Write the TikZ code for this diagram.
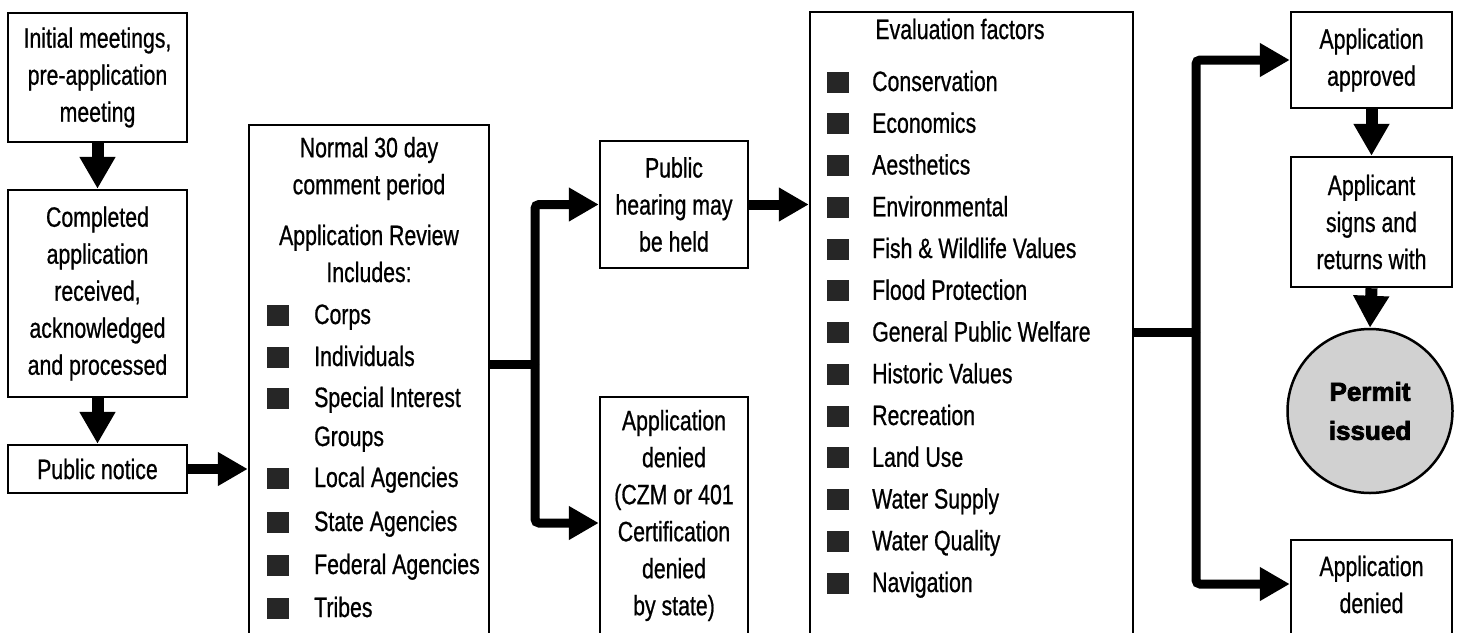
\documentclass[tikz,border=0pt]{standalone}
\usepackage{fontspec}
\setmainfont{Liberation Sans}[FakeStretch=0.76,FakeBold=0.7]
\newfontfamily\permfont{Liberation Sans}[FakeBold=3]
\usetikzlibrary{arrows.meta,shapes.geometric}
\begin{document}
\begin{tikzpicture}[x=1pt,y=-1pt,
  box/.style={draw, line width=2.5pt, rectangle, inner sep=0pt, align=center, font=\fontsize{28}{37}\selectfont},
  txt/.style={inner sep=0pt, align=center, font=\fontsize{28}{37}\selectfont},
  item/.style={inner sep=0pt, anchor=base west, font=\fontsize{28}{37}\selectfont},
  bul/.style={fill=black!85, minimum width=22pt, minimum height=21pt, inner sep=0pt},
  conn/.style={line width=10pt, -{Triangle[length=30pt,width=32pt]}},
  vconn/.style={line width=12pt, -{Triangle[length=32pt,width=34pt]}},
  bline/.style={line width=9pt},
  barrow/.style={line width=9pt, rounded corners=4pt, -{Triangle[length=30pt,width=32pt]}},
]
\useasboundingbox (0,0) rectangle (1458,632);
\fill[white] (0,0) rectangle (1458,632);
\clip (0,0) rectangle (1458,632);

% left column
\node[box, minimum width=179pt, minimum height=129pt] (init) at (97.5,77.5) {Initial meetings,\\pre-application\\meeting};
\node[box, minimum width=179pt, minimum height=207pt] (comp) at (97.5,293.5) {Completed\\application\\received,\\acknowledged\\and processed};
\node[box, minimum width=179pt, minimum height=48pt] (notice) at (97.5,469) {Public notice};

% review box
\node[box, minimum width=240pt, minimum height=580pt] (rev) at (369,415) {};
\node[txt] (revA) at (369,168.5) {Normal 30 day\\comment period};
\node[txt] (revB) at (369,253.5) {Application Review\\Includes:};
\foreach \t/\y [count=\i] in {Corps/315, Individuals/357, Special Interest/398, Local Agencies/478, State Agencies/522, Federal Agencies/565, Tribes/608} {
  \node[bul] (rb\i) at (278,\y) {};
  \node[item] (ri\i) at (314,\y+9) {\t};
}
\node[item] (riG) at (314,446) {Groups};

% middle boxes
\node[box, minimum width=148pt, minimum height=127pt] (hear) at (674,204.5) {Public\\hearing may\\be held};
\node[box, minimum width=148pt, minimum height=308pt] (czm) at (674,551) {};
\node[txt] (czmT) at (674,515.5) {Application\\denied\\(CZM or 401\\Certification\\denied\\by state)};

% evaluation box
\node[box, minimum width=323pt, minimum height=693pt] (eval) at (971.5,358.5) {};
\node[txt] (evalT) at (960,29) {Evaluation factors};
\foreach \t [count=\i from 0] in {Conservation, Economics, Aesthetics, Environmental, Fish \& Wildlife Values, Flood Protection, General Public Welfare, Historic Values, Recreation, Land Use, Water Supply, Water Quality, Navigation} {
  \pgfmathsetmacro\yy{82+\i*41.75}
  \node[bul] (eb\i) at (837.5,\yy) {};
  \node[item] (ei\i) at (872,\yy+9) {\t};
}

% right column
\node[box, minimum width=161pt, minimum height=96pt] (appr) at (1371.5,60) {Application\\approved};
\node[box, minimum width=161pt, minimum height=130pt] (sign) at (1371.5,222) {Applicant\\signs and\\returns with};
\node[ellipse, draw, line width=2.5pt, fill=black!18, minimum width=165pt, minimum height=164pt, inner sep=0pt, align=center, font=\permfont\bfseries\fontsize{26}{39}\selectfont] (perm) at (1370,411) {Permit\\issued};
\node[box, minimum width=161pt, minimum height=165pt] (deny) at (1371.5,622.5) {};
\node[txt] (denyT) at (1371.5,584.5) {Application\\denied};

% connectors
\draw[vconn] (init.south) -- (comp.north);
\draw[vconn] (comp.south) -- (notice.north);
\draw[conn] (notice.east) -- (notice.east -| rev.west);

\coordinate (brA) at (535,364);
\coordinate (brB) at (535,523);
\draw[bline] (brA -| rev.east) -- (brA);
\draw[barrow] (brA) |- (hear.west);
\draw[barrow] (brA) |- (czm.west |- brB);

\draw[conn] (hear.east) -- (hear.east -| eval.west);

\coordinate (brC) at (1196,332);
\coordinate (brD) at (1196,584);
\draw[bline] (brC -| eval.east) -- (brC);
\draw[barrow] (brC) |- (appr.west);
\draw[barrow] (brC) |- (deny.west |- brD);

\draw[vconn] (appr.south) -- (sign.north);
\draw[vconn] (sign.south) -- (perm.north);
\end{tikzpicture}
\end{document}
